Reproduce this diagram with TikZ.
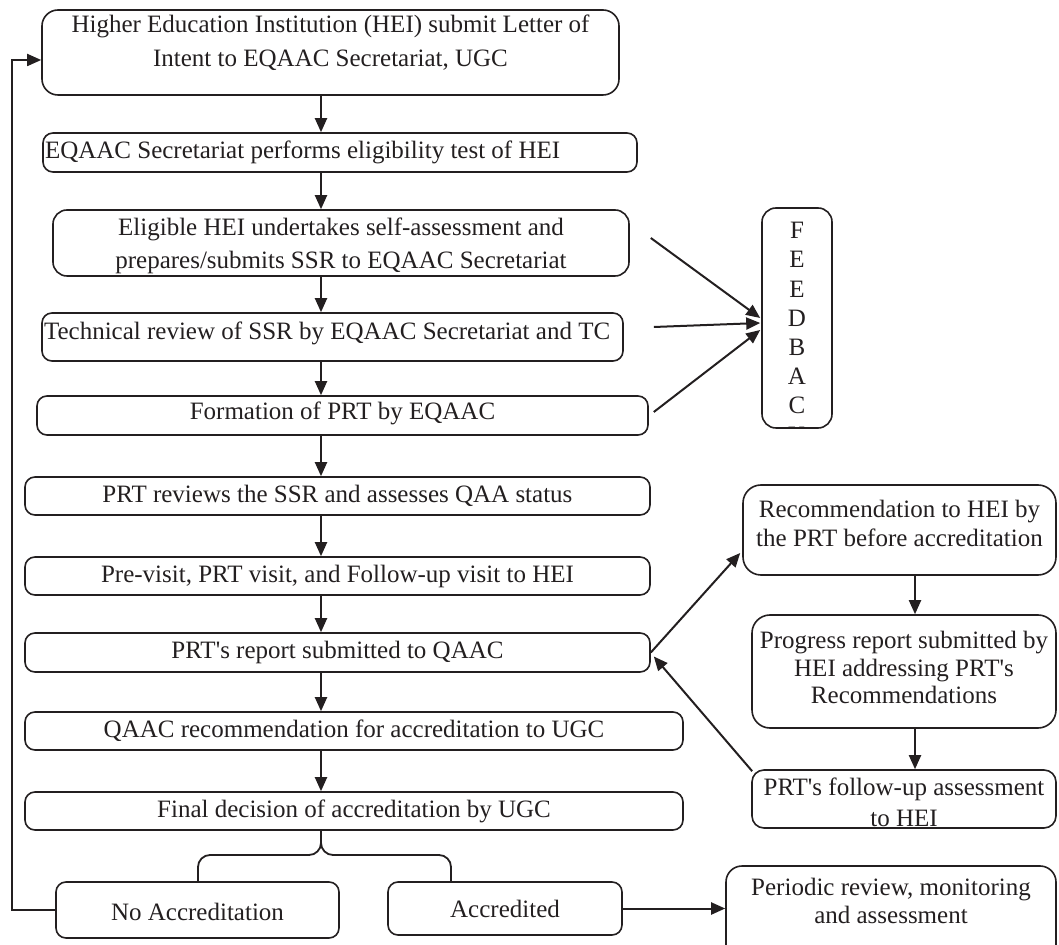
\documentclass[tikz,border=0pt]{standalone}
\usepackage{fontspec}
\setmainfont{Liberation Serif}
\usetikzlibrary{arrows.meta,calc}
\definecolor{ink}{RGB}{35,31,32}
\newcommand\fs[1]{\fontsize{12.5pt}{#1pt}\selectfont}
\newcommand\ap{\textquotesingle}
\tikzset{
  box/.style={draw=ink, line width=0.8pt, rounded corners=5pt, inner sep=0pt, text=ink},
  arr/.style={draw=ink, line width=1pt, -{Triangle[length=7pt,width=6pt]}},
  ln/.style={draw=ink, line width=0.9pt},
}
% \bx[opts]{name}{x1}{y1}{x2}{y2}{shift up px}{format}{text}
\newcommand\bx[9][]{%
  \pgfmathsetmacro\bw{(#5-#3)*0.5}%
  \pgfmathsetmacro\bh{(#6-#4)*0.5}%
  \pgfmathsetmacro\bs{#7}%
  \node[box,#1] (#2) at ({(#3+#5)/2},{(#4+#6)/2})
    {\parbox[c][\bh pt][c]{\bw pt}{#8#9\par\vspace{\bs pt}}};%
}
\begin{document}
\begin{tikzpicture}[x=0.5pt,y=-0.5pt,font=\fs{15.5}]
\useasboundingbox (0,0) rectangle (1059,945);
\clip (0,0) rectangle (1059,945);

% main column
\bx[rounded corners=8pt]{b1}{42}{10}{619}{95}{10}{\fs{17}\centering}{Higher Education Institution (HEI) submit Letter of\\Intent to EQAAC Secretariat, UGC}
\bx{b2}{43}{133}{637}{172}{0}{\raggedright\hspace*{1pt}}{EQAAC Secretariat performs eligibility test of HEI}
\bx[rounded corners=7pt]{b3}{53}{210}{629}{276}{-3}{\fs{16.5}\centering}{Eligible HEI undertakes self-assessment and\\prepares/submits SSR to EQAAC Secretariat}
\bx{b4}{42}{313}{623}{361}{4}{\raggedright\hspace*{1pt}}{Technical review of SSR by EQAAC Secretariat and TC}
\bx{b5}{37}{396}{648}{435}{2}{\centering}{Formation of PRT by EQAAC}
\bx{b6}{25}{477}{650}{515}{0}{\centering}{PRT reviews the SSR and assesses QAA status}
\bx{b7}{25}{557}{650}{595}{0}{\centering}{Pre-visit, PRT visit, and Follow-up visit to HEI}
\bx{b8}{25}{633}{650}{672}{0}{\centering}{PRT\ap s report submitted to QAAC}
\bx{b9}{25}{712}{683}{750}{0}{\centering}{QAAC recommendation for accreditation to UGC}
\bx{b10}{25}{792}{683}{830}{0}{\centering}{Final decision of accreditation by UGC}
\bx{na}{56}{882}{339}{938}{-2}{\centering}{No Accreditation}
\bx{ac}{388}{882}{622}{935}{0}{\centering}{Accredited}
\bx[rounded corners=8pt]{per}{726}{866}{1056}{975}{20}{\fs{14}\centering}{Periodic review, monitoring\\and assessment}

% right column
\bx[rounded corners=9pt]{r1}{743}{485}{1056}{575}{7}{\fs{14.5}\centering}{Recommendation to HEI by\\the PRT before accreditation}
\bx[rounded corners=9pt]{r2}{752}{615}{1056}{728}{4}{\fs{13.8}\centering}{Progress report submitted by\\HEI addressing PRT\ap s\\Recommendations}
\bx[rounded corners=6pt]{r3}{752}{770}{1056}{828}{-3.5}{\fs{15.5}\centering}{PRT\ap s follow-up assessment\\to HEI}

% feedback box
\node[box, rounded corners=7pt, minimum width=35pt, minimum height=110pt] (fb) at (797,318) {};
\begin{scope}
  \clip ($(fb.south west)+(1,-1)$) rectangle ($(fb.north east)+(-1,1)$);
  \node[anchor=north, inner sep=0pt, align=center, text=ink, font=\fs{14.6}] (fbt) at (797,222) {F\\E\\E\\D\\B\\A\\C\\K};
\end{scope}

% vertical arrows
\coordinate (ax) at (321,0);
\foreach \a/\b in {b1/b2,b2/b3,b3/b4,b4/b5,b5/b6,b6/b7,b7/b8,b8/b9,b9/b10}
  \draw[arr] (\a.south -| ax) -- (\b.north -| ax);
\coordinate (ax2) at (915,0);
\draw[arr] (r1.south -| ax2) -- (r2.north -| ax2);
\draw[arr] (r2.south -| ax2) -- (r3.north -| ax2);

% feedback arrows
\draw[arr] ($(b3.east)+(21,-5)$) -- ($(fb.west)+(-1,0)$);
\draw[arr] ($(b4.east)+(30,-10)$) -- ($(fb.west)+(-1,5)$);
\draw[arr] ($(b5.east)+(5,-3.5)$) -- ($(fb.west)+(-1,12)$);

% PRT report loop
\draw[arr] (b8.east) -- ($(r1.west)+(-2,23)$);
\draw[arr] ($(r3.north west)+(1,2)$) -- ($(b8.east)+(3,4)$);

% brace
\coordinate (bt) at (b10.south -| ax);
\coordinate (hy) at (0,855);
\coordinate (bl) at (198,0);
\coordinate (br) at (451,0);
\draw[ln, rounded corners=6pt] (bt) -- (bt |- hy) -- (hy -| bl) -- (na.north -| bl);
\draw[ln, rounded corners=6pt] (bt) -- (bt |- hy) -- (hy -| br) -- (ac.north -| br);

% accredited -> periodic
\draw[arr] (ac.east) -- (ac.east -| per.west);

% no accreditation loop back
\coordinate (lx) at (12,0);
\draw[arr, line width=0.9pt] (na.west) -- (na.west -| lx) |- ($(b1.west)+(0,7.5)$);
\end{tikzpicture}
\end{document}
